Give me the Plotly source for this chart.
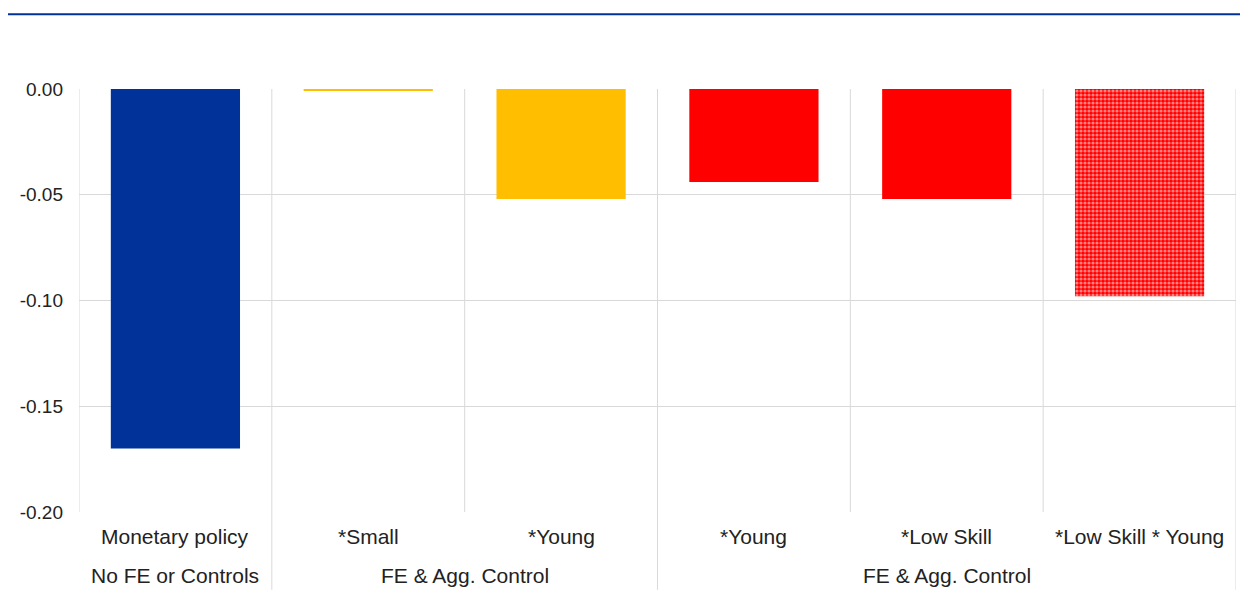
import plotly.graph_objects as go

# bars, left to right
labels = ["Monetary policy", "*Small", "*Young", "*Young", "*Low Skill", "*Low Skill * Young"]
values = [-0.170, -0.001, -0.052, -0.044, -0.052, -0.098]
colors = ["#003299", "#ffbf00", "#ffbf00", "#ff0000", "#ff0000", "#ff0000"]
patterned = [False, False, False, False, False, True]

# second row of category labels: (text, first bar index, last bar index)
groups = [("No FE or Controls", 0, 0), ("FE & Agg. Control", 1, 2), ("FE & Agg. Control", 3, 5)]

yticks = [0.0, -0.05, -0.10, -0.15, -0.20]
ytext = ["0.00", "-0.05", "-0.10", "-0.15", "-0.20"]

cats = [str(i) for i in range(len(labels))]
font = "Liberation Sans, Arial, sans-serif"
grid = "#d9d9d9"

fig = go.Figure()
fig.add_trace(go.Bar(
    x=cats, y=values, width=0.67,
    marker=dict(
        color=colors, line=dict(width=0),
        pattern=dict(
            shape=["." if p else "" for p in patterned],
            fgcolor="white", bgcolor="#ff0000", size=4, solidity=0.5,
        ),
    ),
    showlegend=False,
))

# vertical separators between categories (longer ones between groups)
group_edges = {g[1] - 0.5 for g in groups} | {len(labels) - 0.5}
for i in range(len(labels) + 1):
    xpos = i - 0.5
    y0 = -0.184 if (xpos in group_edges and i > 0) else 0
    fig.add_shape(type="line", xref="x", yref="paper", x0=xpos, x1=xpos,
                  y0=y0, y1=1, line=dict(color=grid, width=1), layer="below")

for i, lab in enumerate(labels):
    fig.add_annotation(x=cats[i], y=-0.057, xref="x", yref="paper", text=lab,
                       yanchor="middle", showarrow=False,
                       font=dict(size=21, color="#222"))
for text, a, b in groups:
    fig.add_annotation(x=(a + b) / 2, y=-0.149, xref="x", yref="paper", text=text,
                       yanchor="middle", showarrow=False,
                       font=dict(size=21, color="#222"))

# blue rule at the top
fig.add_shape(type="line", xref="paper", yref="paper", x0=-0.062, x1=1.011,
              y0=1.177, y1=1.177, line=dict(color="#003299", width=2))

fig.update_layout(
    width=1240, height=603,
    margin=dict(l=71, r=12, t=81, b=99),
    paper_bgcolor="white", plot_bgcolor="white",
    font=dict(family=font, size=19, color="#222"),
    xaxis=dict(range=[-0.5, len(labels) - 0.5], showticklabels=False,
               showgrid=False, zeroline=False, fixedrange=True),
    yaxis=dict(range=[-0.2, 0], tickvals=yticks, ticktext=ytext,
               showgrid=True, gridcolor=grid, gridwidth=1, zeroline=False,
               ticks="", ticklabelstandoff=15, showline=False),
)

fig.write_html("out.html")
